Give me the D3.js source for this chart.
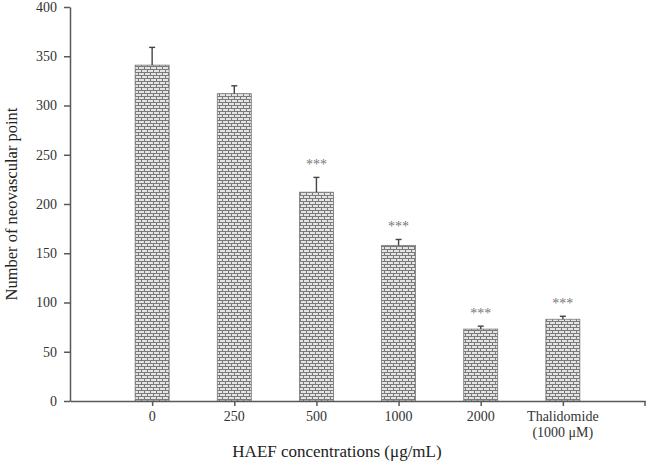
<!DOCTYPE html>
<html><head><meta charset="utf-8">
<script src="https://cdn.jsdelivr.net/npm/d3@7"></script>
<style>body{margin:0;background:#fff}</style>
</head><body>
<svg id="c" width="651" height="467"></svg>
<script>
const categories = ["0", "250", "500", "1000", "2000", "Thalidomide|(1000 μM)"];
const values = [341, 312, 212, 158, 73, 83];
const errors = [18, 8, 15, 6, 3, 3];
const signif = ["", "", "***", "***", "***", "***"];
const yTicks = [0, 50, 100, 150, 200, 250, 300, 350, 400];

const svg = d3.select("#c");
const font = "'Liberation Serif', 'Times New Roman', serif";
const axisCol = "#595959";

const defs = svg.append("defs");
const pat = defs.append("pattern").attr("id", "brick").attr("patternUnits", "userSpaceOnUse")
  .attr("width", 6).attr("height", 6);
pat.append("rect").attr("width", 6).attr("height", 6).attr("fill", "#7a7a7a");
pat.append("rect").attr("x", 1).attr("y", 1).attr("width", 5).attr("height", 2).attr("fill", "#e4e4e4");
pat.append("rect").attr("x", 0).attr("y", 4).attr("width", 3).attr("height", 2).attr("fill", "#e4e4e4");
pat.append("rect").attr("x", 4).attr("y", 4).attr("width", 2).attr("height", 2).attr("fill", "#e4e4e4");

const x = d3.scalePoint().domain(categories).range([70, 645]).padding(1);
const y = d3.scaleLinear().domain([0, 400]).range([401, 7]);
const bw = 34;

svg.selectAll("rect.bar").data(values).enter().append("rect")
  .attr("class", "bar")
  .attr("x", (d, i) => x(categories[i]) - bw / 2)
  .attr("y", d => y(d))
  .attr("width", bw)
  .attr("height", d => y(0) - y(d))
  .attr("fill", "url(#brick)")
  .attr("stroke", "#777").attr("stroke-width", 0.8);

const eg = svg.append("g").attr("stroke", "#444").attr("stroke-width", 1.4);
values.forEach((v, i) => {
  const cx = x(categories[i]);
  eg.append("line").attr("x1", cx).attr("x2", cx).attr("y1", y(v)).attr("y2", y(v + errors[i]));
  eg.append("line").attr("x1", cx - 3).attr("x2", cx + 3).attr("y1", y(v + errors[i])).attr("y2", y(v + errors[i]));
});

svg.selectAll("text.sig").data(signif).enter().append("text")
  .attr("class", "sig")
  .attr("x", (d, i) => x(categories[i]))
  .attr("y", (d, i) => y(values[i] + errors[i]) - 8)
  .attr("text-anchor", "middle")
  .attr("font-family", font).attr("font-size", 14).attr("fill", "#777")
  .text(d => d);

const yAxis = d3.axisLeft(y).tickValues(yTicks).tickSize(6).tickSizeOuter(0).tickPadding(7);
const yg = svg.append("g").attr("transform", "translate(70,0)").call(yAxis);
yg.select(".domain").attr("stroke", axisCol).attr("stroke-width", 1.5);
yg.selectAll(".tick line").attr("stroke", axisCol).attr("stroke-width", 1.5);
yg.selectAll(".tick text").attr("font-family", font).attr("font-size", 14).attr("fill", "#333");

const xAxis = d3.axisBottom(x).tickSize(5).tickSizeOuter(0).tickFormat(() => "");
const xg = svg.append("g").attr("transform", "translate(0,401)").call(xAxis);
xg.select(".domain").attr("stroke", axisCol).attr("stroke-width", 1.5);
xg.selectAll(".tick line").attr("stroke", axisCol).attr("stroke-width", 1.5);
xg.append("line").attr("x1", 645).attr("x2", 645).attr("y1", 0).attr("y2", 5).attr("stroke", axisCol).attr("stroke-width", 1.5);

categories.forEach(c => {
  const lines = c.split("|");
  const t = svg.append("text").attr("x", x(c)).attr("y", 421)
    .attr("text-anchor", "middle").attr("font-family", font).attr("font-size", 14).attr("fill", "#333");
  lines.forEach((l, j) => t.append("tspan").attr("x", x(c)).attr("dy", j ? 16 : 0).text(l));
});

svg.append("text").attr("transform", "translate(17,204) rotate(-90)")
  .attr("text-anchor", "middle").attr("font-family", font).attr("font-size", 16.5).attr("fill", "#222")
  .text("Number of neovascular point");
svg.append("text").attr("x", 337).attr("y", 457)
  .attr("text-anchor", "middle").attr("font-family", font).attr("font-size", 17).attr("fill", "#222")
  .text("HAEF concentrations (μg/mL)");
</script>
</body></html>
